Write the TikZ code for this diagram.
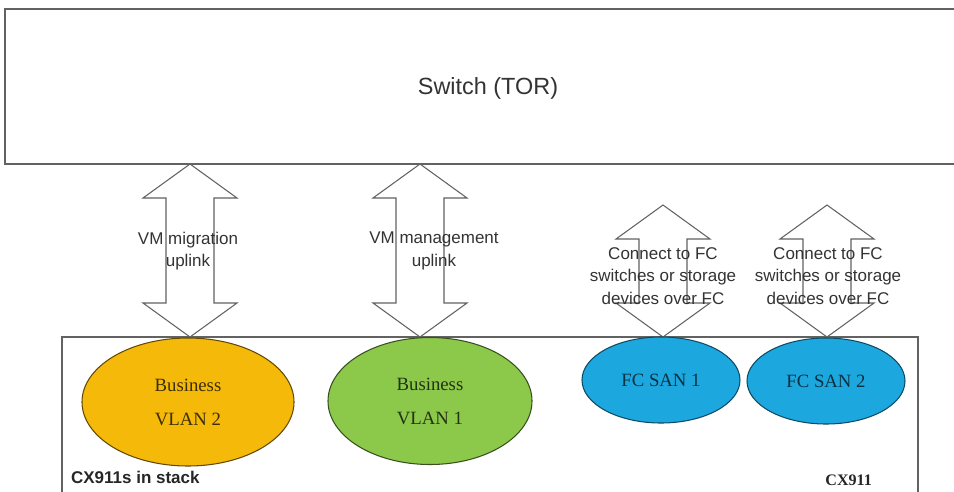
\documentclass[tikz,border=0pt]{standalone}
\usepackage{fontspec}
\setmainfont{Liberation Sans}
\newfontfamily\serifrm{Liberation Serif}
\usepackage{tikz}
\usetikzlibrary{shapes, calc}
\definecolor{edgegray}{HTML}{626262}
\definecolor{txtgray}{HTML}{333333}
\definecolor{vlanorange}{HTML}{F5B90A}
\definecolor{vlangreen}{HTML}{8CC94A}
\definecolor{sanblue}{HTML}{1DA7DF}
\tikzstyle{frame} = [draw=edgegray, line width=1pt, rectangle]
\tikzstyle{vlan} = [draw, ellipse, line width=0.9pt, align=center, inner sep=0pt]
\tikzstyle{note} = [text=txtgray, align=center]
\tikzstyle{fatarrow} = [draw=edgegray, fill=white, line width=0.9pt, line join=miter]

% fat double arrow between two tips (#1 top, #2 bottom)
\newcommand{\uplink}[2]{%
  \draw [fatarrow] (#1) -- ++(47,34) -- ++(-23,0) -- ($(#2)+(24,-34)$) -- ++(23,0)
    -- (#2) -- ++(-47,-34) -- ++(23,0) -- ($(#1)+(-24,34)$) -- ++(-23,0) -- cycle;}

\begin{document}
\begin{tikzpicture}[x=0.03cm, y=-0.03cm]
        \useasboundingbox (0,0) rectangle (954,491);

        % boxes
        \node [frame, minimum width=29.01cm, minimum height=4.65cm] (switch) at (488.5,86.5) {};
        \node [note, font=\fontsize{20}{24}\selectfont] (tor) at (488,88) {Switch (TOR)};
        \node [frame, minimum width=25.68cm, minimum height=5.19cm] (cx) at (490,423.5) {};

        % arrow tips
        \coordinate (t1) at (190,164);
        \coordinate (b1) at (190,337);
        \coordinate (t2) at (420,164);
        \coordinate (b2) at (420,337);
        \coordinate (t3) at (663,205);
        \coordinate (b3) at (663,337);
        \coordinate (t4) at (827,205);
        \coordinate (b4) at (827,337);
        \uplink{t1}{b1}
        \uplink{t2}{b2}
        \uplink{t3}{b3}
        \uplink{t4}{b4}

        % VLANs and SANs
        \node [vlan, fill=vlanorange, draw=black!60!vlanorange, text=black!75!vlanorange,
               minimum width=6.36cm, minimum height=3.84cm,
               font=\serifrm\fontsize{16}{29}\selectfont] (vlan2) at (188,402) {Business\\VLAN 2};
        \node [vlan, fill=vlangreen, draw=black!60!vlangreen, text=black!75!vlangreen,
               minimum width=6.12cm, minimum height=3.81cm,
               font=\serifrm\fontsize{16}{29}\selectfont] (vlan1) at (430,401) {Business\\VLAN 1};
        \node [vlan, fill=sanblue, draw=black!55!sanblue, text=black!70!sanblue,
               minimum width=4.74cm, minimum height=2.58cm,
               font=\serifrm\fontsize{16}{20}\selectfont] (san1) at (661,380) {FC SAN 1};
        \node [vlan, fill=sanblue, draw=black!55!sanblue, text=black!70!sanblue,
               minimum width=4.74cm, minimum height=2.58cm,
               font=\serifrm\fontsize{16}{20}\selectfont] (san2) at (826,381) {FC SAN 2};

        % labels
        \node [note, font=\fontsize{14.5}{19}\selectfont] (mig) at (188,251) {VM migration\\uplink};
        \node [note, font=\fontsize{14.5}{19}\selectfont] (mgmt) at (434,251) {VM management\\uplink};
        \node [note, font=\fontsize{14.5}{19.5}\selectfont] (fc1) at (663,276) {Connect to FC\\switches or storage\\devices over FC};
        \node [note, font=\fontsize{14.5}{19.5}\selectfont] (fc2) at (828,276) {Connect to FC\\switches or storage\\devices over FC};
        \node [note, anchor=west, text=black!85, font=\bfseries\fontsize{14.5}{17}\selectfont] (stack) at (67,477) {CX911s in stack};
        \node [note, anchor=east, text=black!85, font=\serifrm\bfseries\fontsize{13.7}{16}\selectfont] (cx911) at (876,480) {CX911};
\end{tikzpicture}
\end{document}
